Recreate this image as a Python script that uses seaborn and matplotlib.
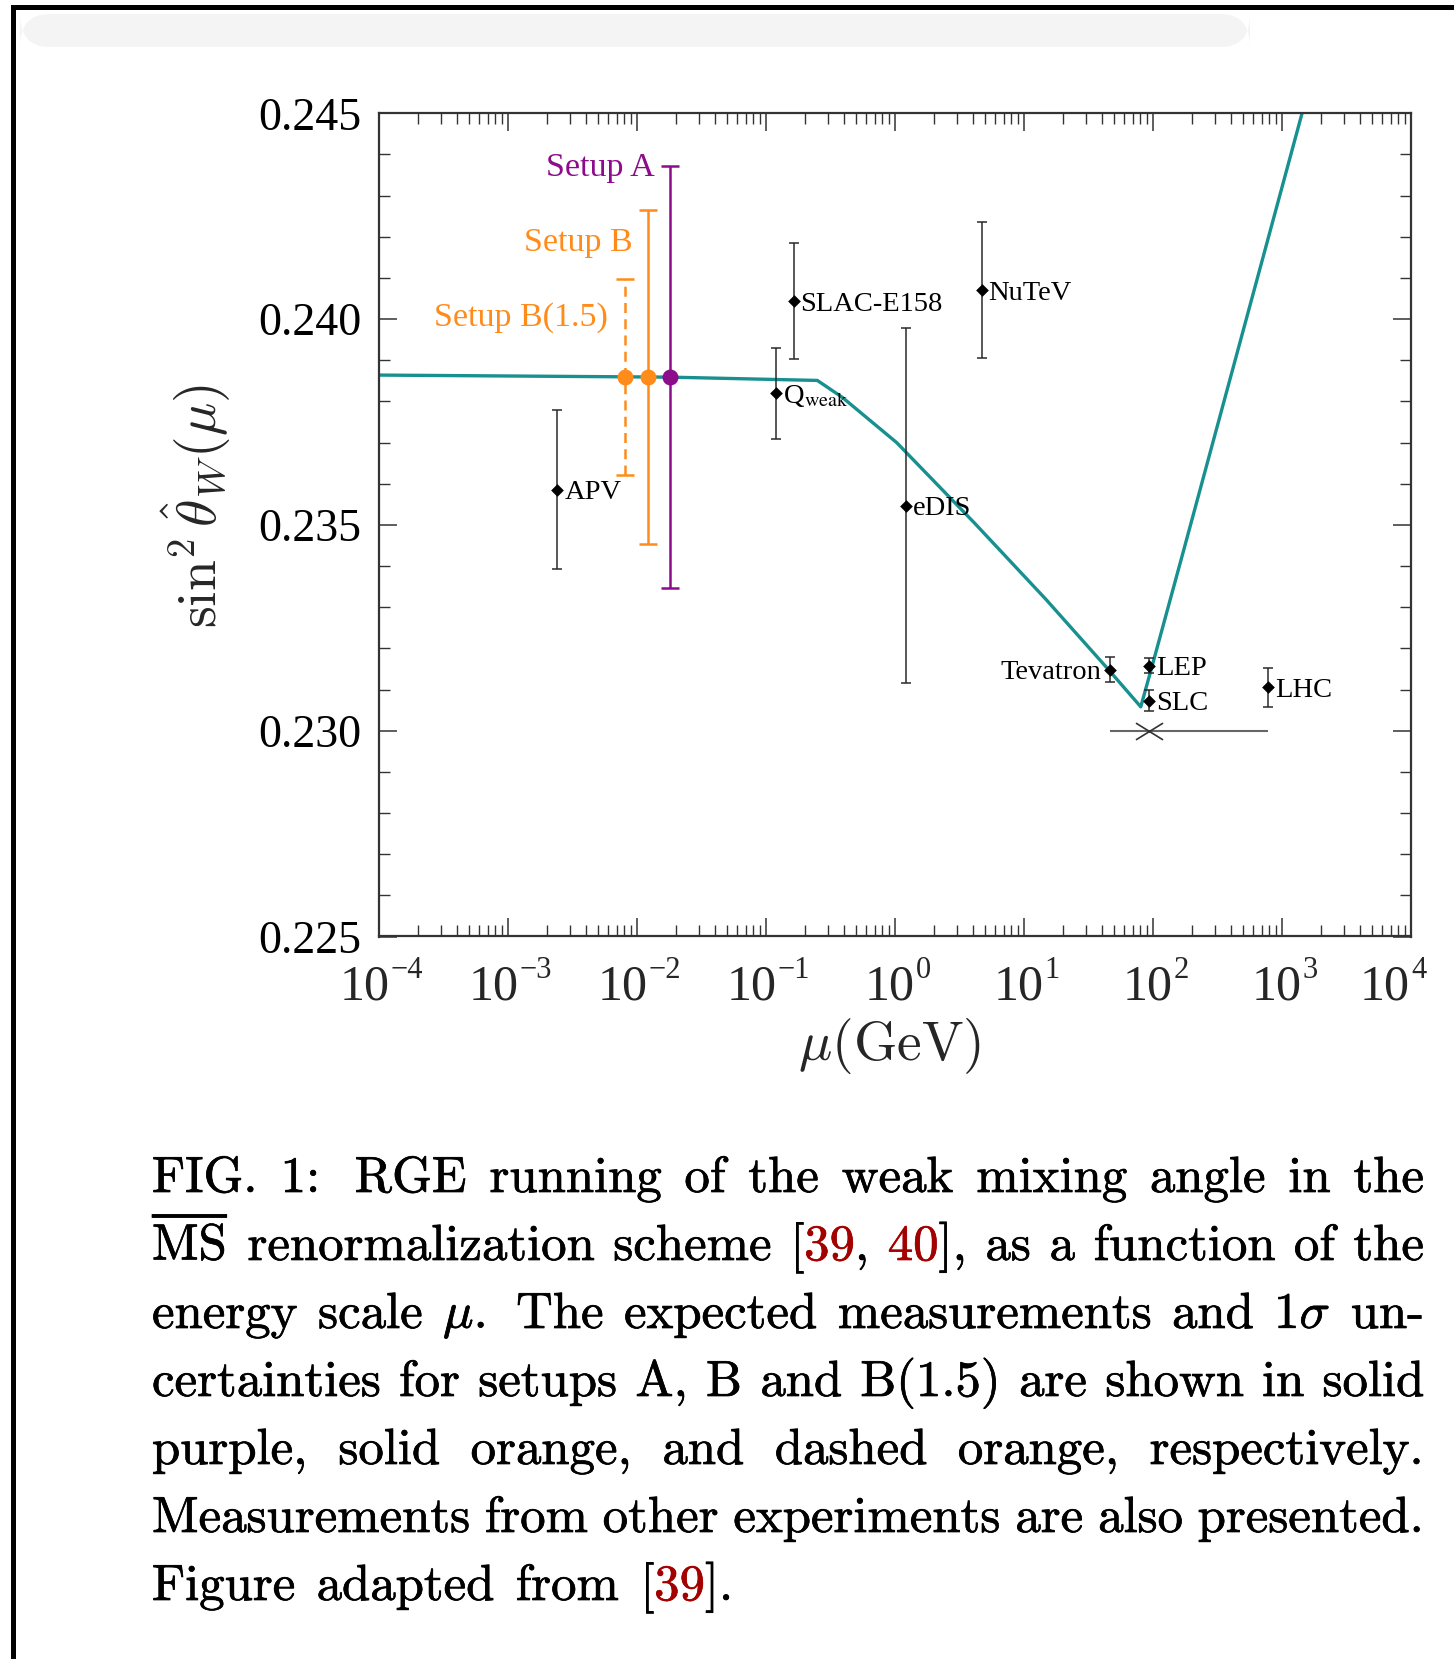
import re
import numpy as np
import pandas as pd
import matplotlib
matplotlib.use("Agg")
import matplotlib.pyplot as plt
import matplotlib.patheffects as pe
import seaborn as sns
from matplotlib.ticker import MultipleLocator, FormatStrFormatter, LogLocator, NullFormatter
from matplotlib.path import Path
from matplotlib.patches import Rectangle, FancyBboxPatch

# ---------------- data ----------------
curve_mu = [1e-4, 0.018, 0.25, 0.39, 1.03, 4.09, 14.8, 45.0, 80.4, 101.4, 173.4, 1430.0]
curve_s2w = [0.23864, 0.23859, 0.23851, 0.23810, 0.23700, 0.23506, 0.23319, 0.23149,
             0.23058, 0.23172, 0.23440, 0.24500]

exp_labels = ["APV", r"Q$_{\mathrm{weak}}$", "SLAC-E158", "eDIS", "NuTeV", "Tevatron", "LEP", "SLC", "LHC"]
exp_mu = [0.00241, 0.1197, 0.1637, 1.22, 4.69, 46.6, 93.0, 93.0, 781.0]
exp_s2w = [0.23586, 0.23820, 0.24043, 0.23547, 0.24070, 0.23148, 0.23158, 0.23073, 0.23105]
exp_err = [0.00192, 0.00111, 0.00141, 0.00431, 0.00165, 0.00030, 0.00018, 0.00026, 0.00047]

setup_labels = ["Setup B(1.5)", "Setup B", "Setup A"]
setup_mu = [0.00807, 0.0121, 0.01803]
setup_s2w = [0.23859, 0.23859, 0.23859]
setup_err = [0.00238, 0.00405, 0.00512]

zrange_mu = [46.6, 93.0, 781.0]   # low, centre, high
zrange_s2w = 0.2300

xdecades = [-4, -3, -2, -1, 0, 1, 2, 3, 4]
yticks_vals = [0.225, 0.230, 0.235, 0.240, 0.245]

caption_lines = [
    "FIG. 1: RGE running of the weak mixing angle in the",
    r"$\overline{\mathrm{MS}}$ renormalization scheme [‹39›, ‹40›], as a function of the",
    r"energy scale $\mu$. The expected measurements and 1$\sigma$ un-",
    "certainties for setups A, B and B(1.5) are shown in solid",
    "purple, solid orange, and dashed orange, respectively.",
    "Measurements from other experiments are also presented.",
    "Figure adapted from [‹39›].",
]

# ---------------- style ----------------
sns.set_theme(style="ticks")
plt.rcParams["font.family"] = ["Liberation Serif", "DejaVu Serif"]
plt.rcParams["mathtext.fontset"] = "stix"

TEAL = "#17908f"
ORANGE = "#ff8c1a"
PURPLE = "#8c0c8c"
RED = "#a30000"
DARK = "#333333"

W, H = 1454, 1659
fig = plt.figure(figsize=(W / 100, H / 100), dpi=100)
fig.patch.set_facecolor("white")
renderer = fig.canvas.get_renderer()

def fx(x):
    return x / W

def fy(y):
    return 1 - y / H

# frame of the screenshot
fig.add_artist(FancyBboxPatch((fx(20), fy(47)), fx(1250) - fx(20), fy(14) - fy(47),
                              boxstyle="round,pad=0,rounding_size=0.02",
                              transform=fig.transFigure, facecolor="#f4f4f4",
                              edgecolor="none", zorder=0))
fig.add_artist(Rectangle((fx(11), fy(10)), fx(1454) - fx(11), fy(5) - fy(10),
                         transform=fig.transFigure, facecolor="black", edgecolor="none"))
fig.add_artist(Rectangle((fx(11), fy(1659)), fx(16) - fx(11), fy(5) - fy(1659),
                         transform=fig.transFigure, facecolor="black", edgecolor="none"))

ax = fig.add_axes([fx(379), fy(936.5), (1411 - 379) / W, (936.5 - 113.3) / H])
ax.set_facecolor("white")
ax.set_xscale("log")

# running curve
sns.lineplot(x=curve_mu, y=curve_s2w, ax=ax, color=TEAL, linewidth=2.4,
             sort=False, estimator=None, zorder=2)

# other experiments
ax.errorbar(exp_mu, exp_s2w, yerr=exp_err, fmt="none", ecolor="#2a2a2a",
            elinewidth=1.1, capsize=3.3, capthick=1.1, zorder=3)
sns.scatterplot(x=exp_mu, y=exp_s2w, ax=ax, marker="D", s=42, color="black",
                edgecolor="black", linewidth=0, zorder=4)

label_offsets = {"Tevatron": (-9, 0, "right")}
for name, m, v in zip(exp_labels, exp_mu, exp_s2w):
    dx, dy, ha = label_offsets.get(name, (7, 0, "left"))
    ax.annotate(name, xy=(m, v), xytext=(dx, dy), textcoords="offset pixels",
                ha=ha, va="center_baseline", fontsize=20.5, color="black", zorder=5)

# energy range bar with cross
ax.errorbar([zrange_mu[1]], [zrange_s2w],
            xerr=[[zrange_mu[1] - zrange_mu[0]], [zrange_mu[2] - zrange_mu[1]]],
            fmt="none", ecolor="#666666", elinewidth=1.5, capsize=0, zorder=3)
xmark = Path([(-1, -0.62), (1, 0.62), (-1, 0.62), (1, -0.62)],
             [Path.MOVETO, Path.LINETO, Path.MOVETO, Path.LINETO])
ax.plot([zrange_mu[1]], [zrange_s2w], marker=xmark, markersize=19.5, color=DARK,
        markeredgewidth=1.2, linestyle="none", zorder=4)

# future setups
setup_colors = [ORANGE, ORANGE, PURPLE]
setup_styles = [(0, (4, 2.5)), "-", "-"]
setup_text_off = [(-17, -46.5), (-15, -40.5), (-15, -10)]
for lab, m, v, e, c, ls, off in zip(setup_labels, setup_mu, setup_s2w, setup_err,
                                    setup_colors, setup_styles, setup_text_off):
    eb = ax.errorbar([m], [v], yerr=[e], fmt="none", ecolor=c, elinewidth=1.8,
                     capsize=6.4, capthick=1.8, zorder=3)
    eb[2][0].set_linestyle(ls)
    ax.plot([m], [v], marker="o", markersize=11.5, color=c, markeredgewidth=0,
            linestyle="none", zorder=5)
    ax.annotate(lab, xy=(m, v + e), xytext=off, textcoords="offset pixels",
                ha="right", va="baseline", fontsize=24.5, color=c)

# axes
ax.set_xlim(1e-4, 1e4)
ax.set_ylim(0.225, 0.245)
ax.xaxis.set_major_locator(LogLocator(base=10, numticks=20))
ax.xaxis.set_minor_locator(LogLocator(base=10, subs=np.arange(2, 10), numticks=200))
ax.xaxis.set_major_formatter(NullFormatter())
ax.xaxis.set_minor_formatter(NullFormatter())
ax.set_yticks(yticks_vals)
ax.yaxis.set_major_formatter(FormatStrFormatter("%.3f"))
ax.yaxis.set_minor_locator(MultipleLocator(0.001))

for sp in ax.spines.values():
    sp.set_visible(True)
    sp.set_color(DARK)
    sp.set_linewidth(1.6)

ax.tick_params(which="both", direction="in", top=True, right=True, color=DARK,
               labelcolor="black", labelsize=33)
ax.tick_params(which="major", length=13, width=1.1)
ax.tick_params(which="minor", length=8, width=1.0)
ax.tick_params(axis="y", which="major", pad=12.5)

# x tick labels: "10" with a small raised exponent, centred as a whole
xtr = ax.get_xaxis_transform()
for i, e in enumerate(xdecades):
    t10 = ax.annotate("10", xy=(10.0 ** e, 0), xycoords=xtr, xytext=(0, -63.5),
                      textcoords="offset pixels", ha="right", va="baseline",
                      fontsize=36, annotation_clip=False)
    tex = ax.annotate(str(e).replace("-", "\u2212"), xy=(10.0 ** e, 0), xycoords=xtr,
                      xytext=(0, -42), textcoords="offset pixels", ha="left",
                      va="baseline", fontsize=22, annotation_clip=False)
    w10 = t10.get_window_extent(renderer).width
    wex = tex.get_window_extent(renderer).width
    right = (w10 + wex) / 2 - wex
    if i == len(xdecades) - 1:
        right = -3
    t10.set_position((right + 2, -63.5))
    tex.set_position((right + 3, -42))

ax.set_xlabel(r"$\mu(\mathrm{GeV})$", fontsize=40, math_fontfamily="cm")
ax.set_ylabel(r"$\sin^2\hat{\theta}_W(\mu)$", fontsize=40, math_fontfamily="cm")
ax.xaxis.set_label_coords(0.495, -0.097)
ax.yaxis.set_label_coords(-0.1415, 0.5224)

# ---------------- caption (justified) ----------------
CAP_FS = 36.6
LEFT, RIGHT = 152.0, 1424.0
baselines = [1192, 1260, 1328, 1396, 1464, 1532, 1600]

def parse_word(word):
    segs = []
    for part in re.split(r"(‹[^›]*›)", word):
        if not part:
            continue
        if part.startswith("‹"):
            segs.append((part[1:-1], RED))
        else:
            segs.append((part, "black"))
    return segs

for li, (line, yb) in enumerate(zip(caption_lines, baselines)):
    words = line.split(" ")
    placed = []
    for w in words:
        items = []
        for txt, col in parse_word(w):
            t = fig.text(0, fy(yb), txt, fontsize=CAP_FS, family="cmr10",
                         math_fontfamily="cm", color=col, ha="left", va="baseline")
            t.set_path_effects([pe.withStroke(linewidth=0.5, foreground=col)])
            wd = t.get_window_extent(renderer).width
            items.append((t, wd))
        placed.append(items)
    widths = [sum(wd for _, wd in items) for items in placed]
    weights = []
    for w in words[:-1]:
        core = w.replace("‹", "").replace("›", "")
        if core.endswith(":") or (core.endswith(".") and len(core) > 1 and not core[-2].isupper()):
            weights.append(1.5)
        else:
            weights.append(1.0)
    justify = li < len(caption_lines) - 1
    if justify:
        unit = (RIGHT - LEFT - sum(widths)) / sum(weights)
    else:
        unit = 0.42 * CAP_FS * 100 / 72
    x = LEFT
    for i, items in enumerate(placed):
        xx = x
        for t, wd in items:
            t.set_x(fx(xx))
            xx += wd
        x += widths[i]
        if i < len(weights):
            x += unit * weights[i]

fig.savefig("out.png", dpi=100, facecolor="white")
